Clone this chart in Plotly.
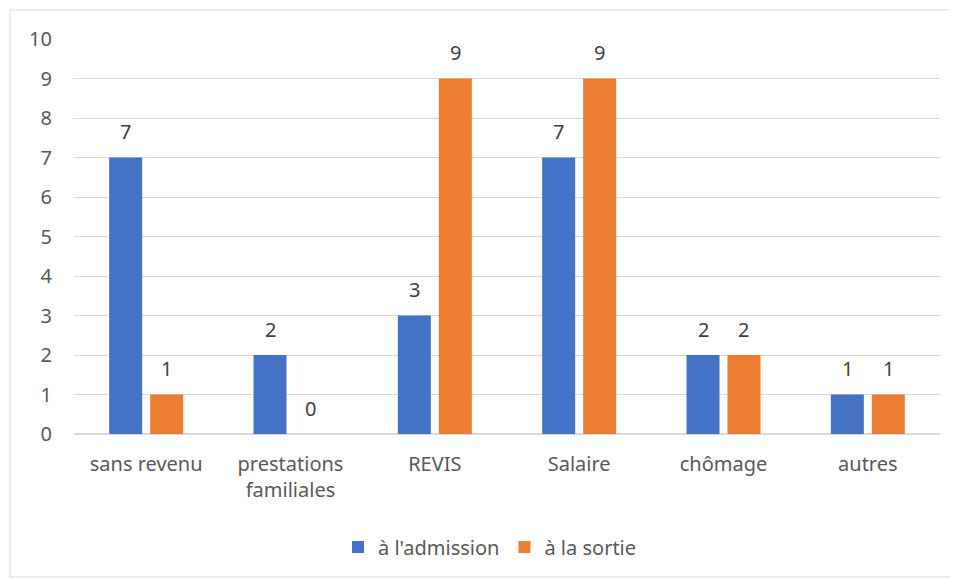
import plotly.graph_objects as go

categories = ["sans revenu", "prestations<br>familiales", "REVIS", "Salaire", "chômage", "autres"]
admission = [7, 2, 3, 7, 2, 1]
sortie = [1, 0, 9, 9, 2, 1]
y_ticks = list(range(0, 11))

# page body has an 8px margin: build the figure 8px smaller and shift coordinates
OFF = 8
W, H = 958 - OFF, 579 - OFF
L, R, T, B = 74 - OFF, 18, 39 - OFF, 145
pw, ph = W - L - R, H - T - B

BARGAP, GROUPGAP = 0.432, 0.195
FONT = "Noto Sans, Open Sans, sans-serif"

def px_x(p):
    return (p - OFF - L) / pw

def px_y(p):
    return (H - B - (p - OFF)) / ph

fig = go.Figure()
series = [("à l'admission", admission, "#4472C4"), ("à la sortie", sortie, "#ED7D31")]
for name, vals, col in series:
    fig.add_trace(go.Bar(name=name, x=categories, y=vals, marker_color=col, marker_line_width=0))

# data labels above each bar
slot = pw / len(categories) * (1 - BARGAP) / len(series)
for k, (name, vals, col) in enumerate(series):
    dx = (k - (len(series) - 1) / 2) * slot
    for c, v in zip(categories, vals):
        fig.add_annotation(x=c, y=v, text=str(v), showarrow=False, xshift=dx, yshift=26,
                           yanchor="middle", font=dict(family=FONT, size=20, color="#404040"))

fig.add_shape(type="rect", xref="paper", yref="paper",
              x0=px_x(10), x1=px_x(951), y0=px_y(10), y1=px_y(577),
              line=dict(color="#D9D9D9", width=1), fillcolor="rgba(0,0,0,0)")

fig.update_layout(
    width=W, height=H,
    margin=dict(l=L, r=R, t=T, b=B),
    paper_bgcolor="white", plot_bgcolor="white",
    barmode="group", bargap=BARGAP, bargroupgap=GROUPGAP,
    font=dict(family=FONT, size=20, color="#595959"),
    showlegend=True,
    legend=dict(orientation="h", x=px_x(490), xanchor="center", y=px_y(547), yanchor="middle",
                font=dict(size=20, color="#595959"), itemwidth=30, tracegroupgap=0),
    xaxis=dict(showgrid=False, showline=False, ticks="", tickfont=dict(size=20),
               ticklabelstandoff=16),
    yaxis=dict(range=[0, 10], tickvals=y_ticks, showgrid=True, gridcolor="#D9D9D9",
               zeroline=True, zerolinecolor="#D9D9D9", showline=False, ticks="",
               tickfont=dict(size=20), ticklabelstandoff=21),
)

fig.write_html("out.html")
